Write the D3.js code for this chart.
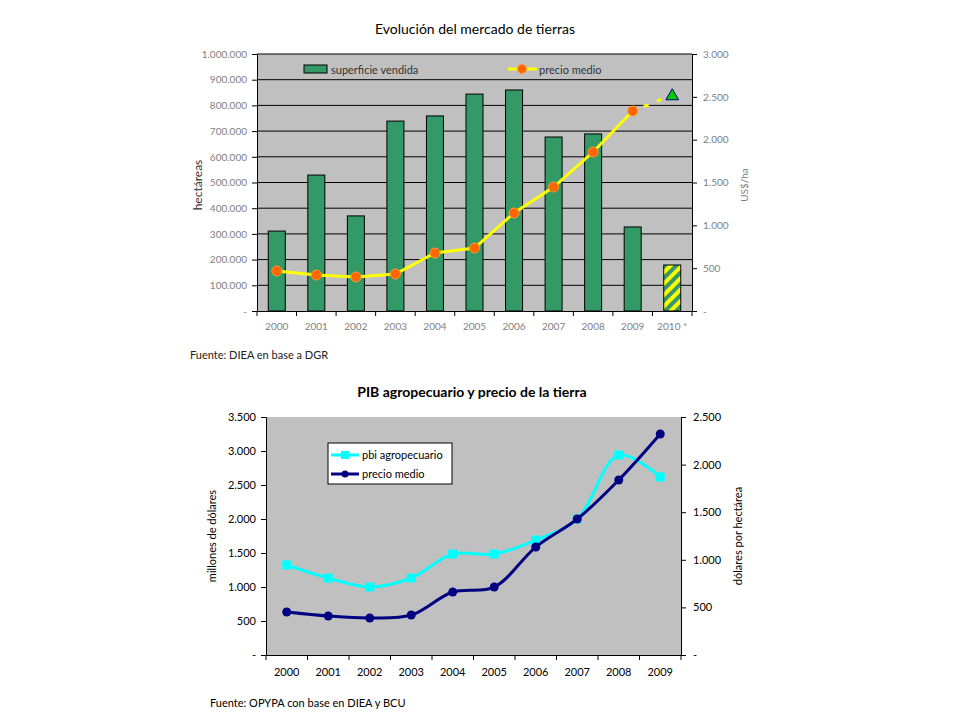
<!DOCTYPE html>
<html>
<head>
<meta charset="utf-8">
<script src="https://cdn.jsdelivr.net/npm/d3@7"></script>
<style>
body { margin: 0; background: #fff; }
svg { font-family: Lato, "Open Sans", sans-serif; }
</style>
</head>
<body>
<svg width="960" height="720"></svg>
<script>
// chart 1 data
var years1 = ["2000","2001","2002","2003","2004","2005","2006","2007","2008","2009","2010 *"]
var superficie = [311000,529000,370000,739000,759000,844000,860000,677000,689000,327000,179000]
var precio1 = [467,420,397,432,677,735,1144,1447,1856,2335]
var precio2010 = 2520
var ticks1Left = [0,100000,200000,300000,400000,500000,600000,700000,800000,900000,1000000]
var ticks1Right = [0,500,1000,1500,2000,2500,3000]

// chart 2 data
var years2 = ["2000","2001","2002","2003","2004","2005","2006","2007","2008","2009"]
var pbi = [1324,1132,1000,1132,1485,1485,1691,2000,2941,2618]
var precio = [452,410,389,420,662,714,1134,1429,1838,2321]
var ticks2Left = [0,500,1000,1500,2000,2500,3000,3500]
var ticks2Right = [0,500,1000,1500,2000,2500]

var fmt = function(v) {
    if (v == 0) return "-"
    return d3.format(",")(v).replace(/,/g, ".")
}

var svg = d3.select("svg")

// ---------- chart 1 ----------
var c1 = {left:257, right:692, top:54, bottom:311}

var x1 = d3.scaleBand().domain(years1).range([c1.left, c1.right])
var y1 = d3.scaleLinear().domain([0,1000000]).range([c1.bottom, c1.top])
var y1r = d3.scaleLinear().domain([0,3000]).range([c1.bottom, c1.top])

var defs = svg.append("defs")
var pat = defs.append("pattern")
    .attr("id","hatch")
    .attr("patternUnits","userSpaceOnUse")
    .attr("width",8).attr("height",8)
    .attr("patternTransform","rotate(45)")
pat.append("rect").attr("width",8).attr("height",8).attr("fill","#ffff00")
pat.append("rect").attr("width",4).attr("height",8).attr("fill","#339966")

svg.append("rect")
    .attr("x",c1.left).attr("y",c1.top)
    .attr("width",c1.right-c1.left).attr("height",c1.bottom-c1.top)
    .attr("fill","#c0c0c0")

svg.append("g")
    .selectAll("line")
    .data(ticks1Left.slice(1))
    .enter()
    .append("line")
    .attr("x1",c1.left).attr("x2",c1.right)
    .attr("y1",function(d){return y1(d)}).attr("y2",function(d){return y1(d)})
    .attr("stroke","#000").attr("stroke-width",1)

svg.append("text")
    .attr("x",475).attr("y",34)
    .attr("text-anchor","middle")
    .attr("font-size",14)
    .text("Evolución del mercado de tierras")

// bars
var bw = 17
svg.append("g")
    .selectAll("rect")
    .data(superficie)
    .enter()
    .append("rect")
    .attr("x",function(d,i){return x1(years1[i]) + x1.bandwidth()/2 - bw/2})
    .attr("y",function(d){return y1(d)})
    .attr("width",bw)
    .attr("height",function(d){return c1.bottom - y1(d)})
    .attr("fill",function(d,i){return i == 10 ? "url(#hatch)" : "#339966"})
    .attr("stroke","#000").attr("stroke-width",1)

// axes chart 1
var gray = "#808080"
var axL1 = svg.append("g")
    .attr("transform","translate(" + c1.left + ",0)")
    .call(d3.axisLeft(y1).tickValues(ticks1Left).tickFormat(fmt).tickSize(5).tickPadding(5))
var axR1 = svg.append("g")
    .attr("transform","translate(" + c1.right + ",0)")
    .call(d3.axisRight(y1r).tickValues(ticks1Right).tickFormat(fmt).tickSize(5).tickPadding(6))
var axB1 = svg.append("g")
    .attr("transform","translate(0," + c1.bottom + ")")
    .call(d3.axisBottom(x1).tickSize(0).tickPadding(12))
svg.append("g")
    .selectAll("line")
    .data(d3.range(years1.length + 1))
    .enter()
    .append("line")
    .attr("x1",function(i){return c1.left + i*x1.step()})
    .attr("x2",function(i){return c1.left + i*x1.step()})
    .attr("y1",c1.bottom).attr("y2",c1.bottom+5)
    .attr("stroke","#000")

;[axL1, axR1, axB1].forEach(function(a){
    a.select(".domain").attr("stroke","#000")
    a.selectAll(".tick line").attr("stroke","#000")
    a.selectAll("text").attr("fill",gray).attr("font-size",10).attr("font-family","Lato, sans-serif")
})

svg.append("text")
    .attr("transform","translate(202,185) rotate(-90)")
    .attr("text-anchor","middle")
    .attr("font-size",12)
    .attr("fill","#333")
    .text("hectáreas")
svg.append("text")
    .attr("transform","translate(748,185) rotate(-90)")
    .attr("text-anchor","middle")
    .attr("font-size",10)
    .attr("fill",gray)
    .text("US$/ha")

// price line
var cx1 = function(i){return x1(years1[i]) + x1.bandwidth()/2}
var line1 = d3.line()
    .x(function(d,i){return cx1(i)})
    .y(function(d){return y1r(d)})
svg.append("path")
    .datum(precio1)
    .attr("d",line1)
    .attr("fill","none")
    .attr("stroke","#ffff00").attr("stroke-width",3)

svg.append("line")
    .attr("x1",cx1(9)).attr("y1",y1r(precio1[9]))
    .attr("x2",cx1(10)).attr("y2",y1r(precio2010))
    .attr("stroke","#ffff00").attr("stroke-width",3)
    .attr("stroke-dasharray","5,9")
    .attr("stroke-dashoffset",-12)

svg.append("g")
    .selectAll("circle")
    .data(precio1)
    .enter()
    .append("circle")
    .attr("cx",function(d,i){return cx1(i)})
    .attr("cy",function(d){return y1r(d)})
    .attr("r",5)
    .attr("fill","#ff6600").attr("stroke","#ff9933").attr("stroke-width",1)

svg.append("path")
    .attr("d",d3.symbol().type(d3.symbolTriangle).size(70)())
    .attr("transform","translate(" + cx1(10) + "," + (y1r(precio2010)+1) + ")")
    .attr("fill","#00cc00").attr("stroke","#000080").attr("stroke-width",1)

// legend chart 1
svg.append("rect")
    .attr("x",304).attr("y",65).attr("width",23).attr("height",8)
    .attr("fill","#339966").attr("stroke","#000")
svg.append("text")
    .attr("x",331).attr("y",73.5)
    .attr("font-size",11).attr("fill","#333")
    .text("superficie vendida")
svg.append("line")
    .attr("x1",508).attr("x2",537).attr("y1",69).attr("y2",69)
    .attr("stroke","#ffff00").attr("stroke-width",3)
svg.append("circle")
    .attr("cx",522).attr("cy",69).attr("r",4.5)
    .attr("fill","#ff6600").attr("stroke","#ff9933")
svg.append("text")
    .attr("x",539).attr("y",73.5)
    .attr("font-size",11).attr("fill","#333")
    .text("precio medio")

svg.append("text")
    .attr("x",190).attr("y",359)
    .attr("font-size",11).attr("fill","#222")
    .text("Fuente: DIEA en base a DGR")

// ---------- chart 2 ----------
var c2 = {left:266, right:681, top:417, bottom:655}

var x2 = d3.scaleBand().domain(years2).range([c2.left, c2.right])
var y2 = d3.scaleLinear().domain([0,3500]).range([c2.bottom, c2.top])
var y2r = d3.scaleLinear().domain([0,2500]).range([c2.bottom, c2.top])

svg.append("rect")
    .attr("x",c2.left).attr("y",c2.top)
    .attr("width",c2.right-c2.left).attr("height",c2.bottom-c2.top)
    .attr("fill","#c0c0c0")

svg.append("text")
    .attr("x",472).attr("y",397)
    .attr("text-anchor","middle")
    .attr("font-size",14).attr("font-weight","bold")
    .text("PIB agropecuario y precio de la tierra")

var axL2 = svg.append("g")
    .attr("transform","translate(" + c2.left + ",0)")
    .call(d3.axisLeft(y2).tickValues(ticks2Left).tickFormat(fmt).tickSize(5).tickPadding(5))
var axR2 = svg.append("g")
    .attr("transform","translate(" + c2.right + ",0)")
    .call(d3.axisRight(y2r).tickValues(ticks2Right).tickFormat(fmt).tickSize(5).tickPadding(7))
var axB2 = svg.append("g")
    .attr("transform","translate(0," + c2.bottom + ")")
    .call(d3.axisBottom(x2).tickSize(0).tickPadding(13))
svg.append("g")
    .selectAll("line")
    .data(d3.range(years2.length + 1))
    .enter()
    .append("line")
    .attr("x1",function(i){return c2.left + i*x2.step()})
    .attr("x2",function(i){return c2.left + i*x2.step()})
    .attr("y1",c2.bottom).attr("y2",c2.bottom+5)
    .attr("stroke","#000")

;[axL2, axR2, axB2].forEach(function(a){
    a.select(".domain").attr("stroke","#000")
    a.selectAll(".tick line").attr("stroke","#000")
    a.selectAll("text").attr("fill","#000").attr("font-size",11).attr("font-family","Lato, sans-serif")
})

svg.append("text")
    .attr("transform","translate(216,536) rotate(-90)")
    .attr("text-anchor","middle")
    .attr("font-size",11)
    .text("millones de dólares")
svg.append("text")
    .attr("transform","translate(742,536) rotate(-90)")
    .attr("text-anchor","middle")
    .attr("font-size",11)
    .text("dólares por hectárea")

var cx2 = function(i){return x2(years2[i]) + x2.bandwidth()/2}

svg.append("path")
    .datum(pbi)
    .attr("d",d3.line().curve(d3.curveCatmullRom.alpha(0.5))
        .x(function(d,i){return cx2(i)}).y(function(d){return y2(d)}))
    .attr("fill","none").attr("stroke","#00ffff").attr("stroke-width",3)

svg.append("g")
    .selectAll("rect")
    .data(pbi)
    .enter()
    .append("rect")
    .attr("x",function(d,i){return cx2(i)-4.5})
    .attr("y",function(d){return y2(d)-4.5})
    .attr("width",9).attr("height",9)
    .attr("fill","#00ffff")

svg.append("path")
    .datum(precio)
    .attr("d",d3.line().curve(d3.curveCatmullRom.alpha(0.5))
        .x(function(d,i){return cx2(i)}).y(function(d){return y2r(d)}))
    .attr("fill","none").attr("stroke","#000080").attr("stroke-width",3)

svg.append("g")
    .selectAll("circle")
    .data(precio)
    .enter()
    .append("circle")
    .attr("cx",function(d,i){return cx2(i)})
    .attr("cy",function(d){return y2r(d)})
    .attr("r",4.5)
    .attr("fill","#000080")

// legend chart 2
svg.append("rect")
    .attr("x",328).attr("y",443).attr("width",124).attr("height",41)
    .attr("fill","#fff").attr("stroke","#000")
svg.append("line")
    .attr("x1",331).attr("x2",359).attr("y1",455).attr("y2",455)
    .attr("stroke","#00ffff").attr("stroke-width",3)
svg.append("rect")
    .attr("x",341).attr("y",451).attr("width",8).attr("height",8)
    .attr("fill","#00ffff")
svg.append("text")
    .attr("x",362).attr("y",459)
    .attr("font-size",11)
    .text("pbi agropecuario")
svg.append("line")
    .attr("x1",331).attr("x2",359).attr("y1",474).attr("y2",474)
    .attr("stroke","#000080").attr("stroke-width",3)
svg.append("circle")
    .attr("cx",345).attr("cy",474).attr("r",3.5)
    .attr("fill","#000080")
svg.append("text")
    .attr("x",362).attr("y",478)
    .attr("font-size",11)
    .text("precio medio")

svg.append("text")
    .attr("x",210).attr("y",707)
    .attr("font-size",11)
    .text("Fuente: OPYPA con base en DIEA y BCU")
</script>
</body>
</html>
